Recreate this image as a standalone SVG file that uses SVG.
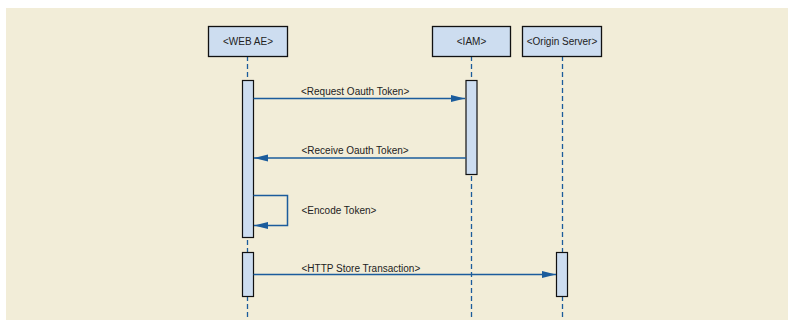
<svg xmlns="http://www.w3.org/2000/svg" width="793" height="326" viewBox="0 0 793 326">
<style>
.box{fill:#CDDDF0;stroke:#111;stroke-width:1.3}
.bar{fill:#CDDDF0;stroke:#111;stroke-width:1.2}
.life{stroke:#1B5C9C;stroke-width:1.3;stroke-dasharray:5,3;fill:none}
.msg{stroke:#1B5C9C;stroke-width:1.5;fill:none}
.t{font-family:"Liberation Sans",Arial,sans-serif;font-size:10px;fill:#222}
</style>
<defs>
<marker id="ah" markerWidth="14" markerHeight="8" refX="14" refY="4" orient="auto" markerUnits="userSpaceOnUse">
<path d="M0,0.5 L14,4 L0,7.5 Z" fill="#1B5C9C"/>
</marker>
</defs>
<rect x="0" y="0" width="793" height="326" fill="#FFFFFF"/>
<rect x="6" y="8" width="782" height="312" fill="#F2EDD8"/>
<g id="lifelines">
<line class="life" x1="247.5" y1="56" x2="247.5" y2="317"/>
<line class="life" x1="471.5" y1="56" x2="471.5" y2="317"/>
<line class="life" x1="562.5" y1="56" x2="562.5" y2="317"/>
</g>
<g id="web-ae">
<rect class="box" x="208.5" y="26.5" width="79" height="30"/>
<text class="t" x="248" y="45" text-anchor="middle">&lt;WEB AE&gt;</text>
<rect class="bar" x="242.5" y="80.5" width="11" height="157"/>
<rect class="bar" x="242.5" y="252.5" width="11" height="44"/>
</g>
<g id="iam">
<rect class="box" x="432.5" y="26.5" width="78" height="30"/>
<text class="t" x="471.5" y="45" text-anchor="middle">&lt;IAM&gt;</text>
<rect class="bar" x="466" y="80.5" width="11" height="94"/>
</g>
<g id="origin-server">
<rect class="box" x="522.5" y="26.5" width="79" height="30"/>
<text class="t" x="562" y="45" text-anchor="middle">&lt;Origin Server&gt;</text>
<rect class="bar" x="556.5" y="252.5" width="11" height="44"/>
</g>
<g id="connectors">
<line class="msg" x1="253.5" y1="98.5" x2="465" y2="98.5" marker-end="url(#ah)"/>
<line class="msg" x1="466" y1="158" x2="254" y2="158" marker-end="url(#ah)"/>
<polyline class="msg" points="253.5,195.5 287.5,195.5 287.5,225.5 254,225.5" marker-end="url(#ah)"/>
<line class="msg" x1="253.5" y1="274.5" x2="556" y2="274.5" marker-end="url(#ah)"/>
</g>
<g id="labels">
<text class="t" x="301" y="95">&lt;Request Oauth Token&gt;</text>
<text class="t" x="301.5" y="154">&lt;Receive Oauth Token&gt;</text>
<text class="t" x="301.5" y="214">&lt;Encode Token&gt;</text>
<text class="t" x="301.5" y="272">&lt;HTTP Store Transaction&gt;</text>
</g>
</svg>
